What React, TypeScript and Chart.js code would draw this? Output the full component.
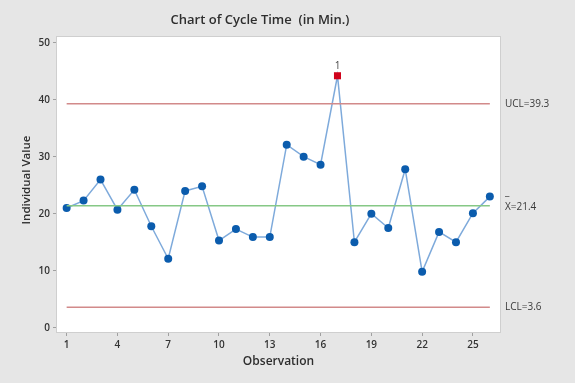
import React, { useEffect, useRef } from "react";
import { Chart, registerables } from "chart.js";

Chart.register(...registerables);

const observations = [1, 2, 3, 4, 5, 6, 7, 8, 9, 10, 11, 12, 13, 14, 15, 16, 17, 18, 19, 20, 21, 22, 23, 24, 25, 26];
const cycleTime = [21.0, 22.3, 26.0, 20.7, 24.2, 17.8, 12.1, 24.0, 24.8, 15.3, 17.3, 15.9, 15.9, 32.1, 30.0, 28.6, 44.2, 15.0, 20.0, 17.5, 27.8, 9.8, 16.8, 15.0, 20.1, 23.0];
const outOfControl = [17];
const UCL = 39.3;
const CENTER = 21.4;
const LCL = 3.6;
const xTicks = [1, 4, 7, 10, 13, 16, 19, 22, 25];
const yTicks = [0, 10, 20, 30, 40, 50];

const FONT = "'Open Sans', 'Noto Sans', sans-serif";

export default function App() {
  const ref = useRef<HTMLCanvasElement>(null);
  useEffect(() => {
    const canvas = ref.current!;
    const first = observations[0];
    const last = observations[observations.length - 1];
    const deco = {
      id: "deco",
      beforeDraw(chart: any) {
        const { ctx, chartArea: a } = chart;
        ctx.save();
        ctx.fillStyle = "#ffffff";
        ctx.fillRect(a.left, a.top, a.right - a.left, a.bottom - a.top);
        ctx.restore();
      },
      afterDraw(chart: any) {
        const { ctx, chartArea: a, scales } = chart;
        const ys = scales.y;
        const xs = scales.x;
        ctx.save();
        ctx.strokeStyle = "#cfcfcf";
        ctx.lineWidth = 1;
        ctx.strokeRect(a.left - 0.5, a.top - 0.5, a.right - a.left + 1, a.bottom - a.top + 1);
        ctx.fillStyle = "#2e2e2e";
        ctx.textAlign = "center";
        ctx.textBaseline = "middle";
        ctx.font = `600 13px ${FONT}`;
        ctx.fillText("Chart of Cycle Time  (in Min.)", 260, 20);
        ctx.font = `600 12px ${FONT}`;
        ctx.fillText("Observation", (a.left + a.right) / 2, 362);
        ctx.save();
        ctx.translate(27, 180);
        ctx.rotate(-Math.PI / 2);
        ctx.font = `600 11.5px ${FONT}`;
        ctx.fillText("Individual Value", 0, 0);
        ctx.restore();
        ctx.font = `10px ${FONT}`;
        ctx.textAlign = "left";
        ctx.fillStyle = "#3a3a3a";
        const lx = a.right + 5;
        ctx.fillText(`UCL=${UCL.toFixed(1)}`, lx, ys.getPixelForValue(UCL));
        const cy = ys.getPixelForValue(CENTER);
        ctx.fillText(`X=${CENTER.toFixed(1)}`, lx, cy + 1);
        ctx.fillText("_", lx, cy - 14);
        ctx.fillText(`LCL=${LCL.toFixed(1)}`, lx, ys.getPixelForValue(LCL));
        ctx.textAlign = "center";
        ctx.fillStyle = "#444444";
        outOfControl.forEach((o) => {
          const i = observations.indexOf(o);
          ctx.fillText("1", xs.getPixelForValue(o), ys.getPixelForValue(cycleTime[i]) - 10);
        });
        ctx.restore();
      },
    };
    const pts = observations.map((o, i) => ({ x: o, y: cycleTime[i] }));
    const isOut = observations.map((o) => outOfControl.includes(o));
    const chart = new Chart(canvas, {
      type: "line",
      data: {
        datasets: [
          {
            data: [{ x: first, y: UCL }, { x: last, y: UCL }],
            borderColor: "#d28a8a",
            borderWidth: 1.5,
            pointRadius: 0,
          },
          {
            data: [{ x: first, y: CENTER }, { x: last, y: CENTER }],
            borderColor: "#86c886",
            borderWidth: 1.5,
            pointRadius: 0,
          },
          {
            data: [{ x: first, y: LCL }, { x: last, y: LCL }],
            borderColor: "#d28a8a",
            borderWidth: 1.5,
            pointRadius: 0,
          },
          {
            data: pts,
            borderColor: "#7eaadb",
            borderWidth: 1.5,
            pointRadius: isOut.map((b) => (b ? 5 : 4)),
            pointStyle: isOut.map((b) => (b ? "rect" : "circle")) as any,
            pointBackgroundColor: isOut.map((b) => (b ? "#d0021b" : "#0b5cad")),
            pointBorderColor: isOut.map((b) => (b ? "#d0021b" : "#0b5cad")),
            pointBorderWidth: 0,
          },
        ],
      },
      options: {
        animation: false,
        responsive: false,
        maintainAspectRatio: false,
        layout: { padding: { top: 37, right: 75, left: 0, bottom: 0 } },
        plugins: { legend: { display: false }, tooltip: { enabled: false }, title: { display: false } },
        scales: {
          x: {
            type: "linear",
            min: 0.43,
            max: 26.6,
            afterBuildTicks: (s: any) => {
              s.ticks = xTicks.map((v) => ({ value: v }));
            },
            afterFit: (s: any) => {
              s.height = 51;
            },
            grid: { drawOnChartArea: false, drawTicks: true, tickLength: 4, color: "#a0a0a0" },
            border: { display: false },
            ticks: { color: "#333333", font: { family: FONT, size: 10, weight: "600" }, padding: 3, autoSkip: false, maxRotation: 0 },
          },
          y: {
            min: -0.75,
            max: 51,
            afterBuildTicks: (s: any) => {
              s.ticks = yTicks.map((v) => ({ value: v }));
            },
            afterFit: (s: any) => {
              s.width = 57;
            },
            grid: { drawOnChartArea: false, drawTicks: true, tickLength: 4, color: "#a0a0a0" },
            border: { display: false },
            ticks: { color: "#333333", font: { family: FONT, size: 10, weight: "600" }, padding: 3 },
          },
        },
      },
      plugins: [deco],
    } as any);
    return () => chart.destroy();
  }, []);
  return (
    <div style={{ position: "fixed", left: 0, top: 0, width: 575, height: 383, background: "#e6e6e6" }}>
      <canvas ref={ref} width={575} height={383} style={{ width: 575, height: 383, display: "block" }} />
    </div>
  );
}
